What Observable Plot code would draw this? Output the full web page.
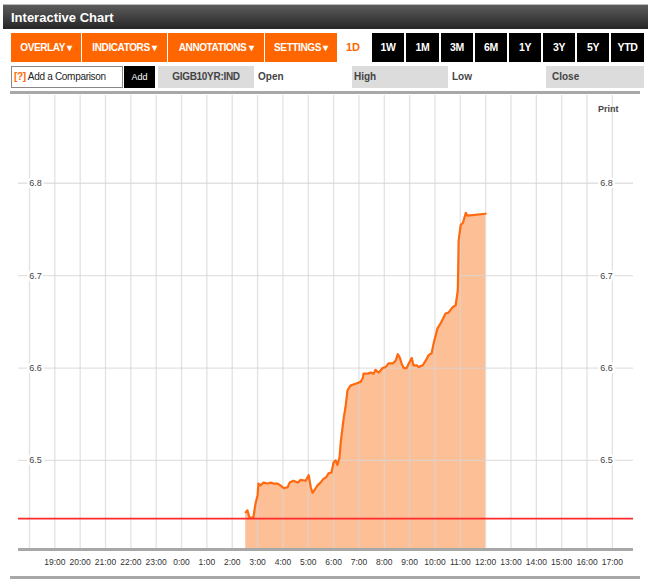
<!DOCTYPE html>
<html>
<head>
<meta charset="utf-8">
<script src="https://cdn.jsdelivr.net/npm/d3@7"></script>
<script src="https://cdn.jsdelivr.net/npm/@observablehq/plot@0.6"></script>
<style>
  body { margin: 0; background: #fff; font-family: "Liberation Sans", Arial, sans-serif; }
  #page { position: relative; width: 650px; height: 585px; overflow: hidden; }
  .abs { position: absolute; box-sizing: border-box; white-space: nowrap; }
  .title { left: 3px; top: 4px; width: 645px; height: 25px; background: linear-gradient(#5c5c5c, #262626);
           color: #fff; font-weight: bold; font-size: 13px; line-height: 25px; padding-left: 8px; border-top: 1px solid #bbb; }
  .org { top: 33px; height: 29px; background: #ff6600; color: #fff; font-weight: bold; font-size: 10px;
         line-height: 29px; text-align: center; letter-spacing: -0.4px; }
  .blk { top: 33px; height: 29px; background: #000; color: #fff; font-weight: bold; font-size: 10.5px;
         line-height: 29px; text-align: center; letter-spacing: -0.4px; }
  .r2 { top: 66px; height: 22px; font-size: 10px; line-height: 22px; color: #222; }
  .gray { background: #dcdcdc; }
  #chart { left: 0; top: 92px; }
</style>
</head>
<body>
<div id="page">
  <div class="abs title">Interactive Chart</div>

  <div class="abs org" style="left:11px;width:70px">OVERLAY ▾</div>
  <div class="abs org" style="left:82px;width:85px">INDICATORS ▾</div>
  <div class="abs org" style="left:168px;width:96px">ANNOTATIONS ▾</div>
  <div class="abs org" style="left:265px;width:72px">SETTINGS ▾</div>
  <div class="abs" style="left:346px;top:33px;height:29px;line-height:29px;color:#ff6600;font-weight:bold;font-size:11px">1D</div>
  <div class="abs blk" style="left:372px;width:32px">1W</div>
  <div class="abs blk" style="left:406px;width:33px">1M</div>
  <div class="abs blk" style="left:441px;width:32px">3M</div>
  <div class="abs blk" style="left:475px;width:32px">6M</div>
  <div class="abs blk" style="left:509px;width:32px">1Y</div>
  <div class="abs blk" style="left:543px;width:32px">3Y</div>
  <div class="abs blk" style="left:577px;width:32px">5Y</div>
  <div class="abs blk" style="left:611px;width:33px">YTD</div>

  <div class="abs r2" style="left:11px;width:112px;border:1px solid #888;line-height:20px;padding-left:2px;letter-spacing:-0.3px"><span style="color:#ff6600;font-weight:bold">[?]</span> Add a Comparison</div>
  <div class="abs r2" style="left:124px;width:31px;background:#000;color:#fff;text-align:center;font-size:9px">Add</div>
  <div class="abs r2 gray" style="left:158px;width:96px;text-align:center;font-weight:bold;color:#444;letter-spacing:-0.3px">GIGB10YR:IND</div>
  <div class="abs r2" style="left:258px;font-weight:bold;color:#444">Open</div>
  <div class="abs r2 gray" style="left:352px;width:96px;padding-left:2px;font-weight:bold;color:#444">High</div>
  <div class="abs r2" style="left:452px;font-weight:bold;color:#444">Low</div>
  <div class="abs r2 gray" style="left:546px;width:98px;padding-left:6px;font-weight:bold;color:#444">Close</div>

  <div class="abs" style="left:10px;top:91px;width:630px;height:3px;background:#a8a8a8"></div>
  <div id="chart" class="abs"></div>
  <div class="abs" style="left:598px;top:104px;font-size:9px;font-weight:bold;color:#444">Print</div>
  <div class="abs" style="left:10px;top:576px;width:630px;height:3px;background:#a8a8a8"></div>
</div>

<script>
// intraday quotes, all on the second day
const times = ["02:32","02:36","02:41","02:50","02:55","03:00","03:02","03:07","03:14","03:24","03:31","03:38",
  "03:47","03:54","04:02","04:11","04:16","04:25","04:35","04:42","04:54","05:01","05:06","05:10","05:15","05:22",
  "05:29","05:36","05:43","05:48","05:55","06:00","06:05","06:09","06:14","06:17","06:24","06:28","06:33","06:40",
  "06:52","07:04","07:09","07:11","07:21","07:28","07:35","07:39","07:47","07:56","08:03","08:10","08:20","08:27",
  "08:32","08:36","08:41","08:46","08:53","08:58","09:05","09:09","09:17","09:21","09:31","09:38","09:45","09:52",
  "09:57","10:06","10:13","10:25","10:32","10:42","10:49","10:54","10:55","10:56","11:01","11:06","11:08","11:13",
  "11:17","12:00"];
const values = [6.444,6.446,6.438,6.438,6.453,6.462,6.475,6.473,6.476,6.475,6.476,6.475,
  6.475,6.473,6.470,6.471,6.476,6.478,6.476,6.479,6.478,6.484,6.471,6.465,6.468,6.473,
  6.476,6.480,6.482,6.486,6.487,6.498,6.500,6.495,6.503,6.520,6.546,6.557,6.576,6.581,
  6.583,6.585,6.589,6.594,6.594,6.595,6.594,6.598,6.595,6.600,6.601,6.605,6.605,6.608,
  6.615,6.612,6.605,6.600,6.600,6.605,6.611,6.603,6.603,6.601,6.603,6.608,6.614,6.616,
  6.627,6.643,6.648,6.659,6.660,6.666,6.668,6.684,6.706,6.738,6.755,6.757,6.760,6.768,
  6.765,6.767];
const prevClose = 6.437;

const yTicks = [6.5, 6.6, 6.7, 6.8];
const labelHours = [19,20,21,22,23,0,1,2,3,4,5,6,7,8,9,10,11,12,13,14,15,16,17];
const gridHours = [18].concat(labelHours);

function at(hm, day) {
  const [h, m] = hm.split(":").map(Number);
  return new Date(2013, 0, day, h, m);
}
function hourDate(h) { return at(h + ":00", h >= 18 ? 1 : 2); }

const data = times.map((t, i) => ({time: at(t, 2), value: values[i]}));
const yMin = 6.4036, yMax = 6.895;

const chart = Plot.plot({
  width: 650,
  height: 488,
  marginLeft: 18,
  marginRight: 17,
  marginTop: 3,
  marginBottom: 31,
  style: {fontFamily: "Liberation Sans, Arial, sans-serif", background: "transparent"},
  x: {type: "time", domain: [at("17:34", 1), at("17:50", 2)], axis: null},
  y: {domain: [yMin, yMax], axis: null},
  marks: [
    Plot.areaY(data, {x: "time", y1: yMin, y2: "value", fill: "#fdbf96"}),
    Plot.ruleX(gridHours.map(hourDate), {stroke: "#d6d6d6", strokeWidth: 1.3, strokeOpacity: 0.7}),
    Plot.ruleY(yTicks, {stroke: "#d6d6d6", strokeWidth: 1.3, strokeOpacity: 0.7}),
    Plot.lineY(data, {x: "time", y: "value", stroke: "#ff6a10", strokeWidth: 2.2, curve: "linear"}),
    Plot.ruleY([prevClose], {stroke: "#ff2a2a", strokeWidth: 1.6}),
    Plot.ruleY([yMin], {stroke: "#a8a8a8", strokeWidth: 3}),
    Plot.text(yTicks, {y: d => d, text: d => d.toFixed(1), frameAnchor: "left", dx: 17, textAnchor: "middle",
      fill: "#444", stroke: "white", strokeWidth: 5, fontSize: 9}),
    Plot.text(yTicks, {y: d => d, text: d => d.toFixed(1), frameAnchor: "right", dx: -27, textAnchor: "middle",
      fill: "#444", stroke: "white", strokeWidth: 5, fontSize: 9}),
    Plot.axisX(labelHours.map(hourDate), {tickSize: 0, tickPadding: 9, fontSize: 8.5, fill: "#333",
      tickFormat: d => d.getHours() + ":00", anchor: "bottom", letterSpacing: -0.4})
  ]
});

document.getElementById("chart").append(chart);
</script>
</body>
</html>
